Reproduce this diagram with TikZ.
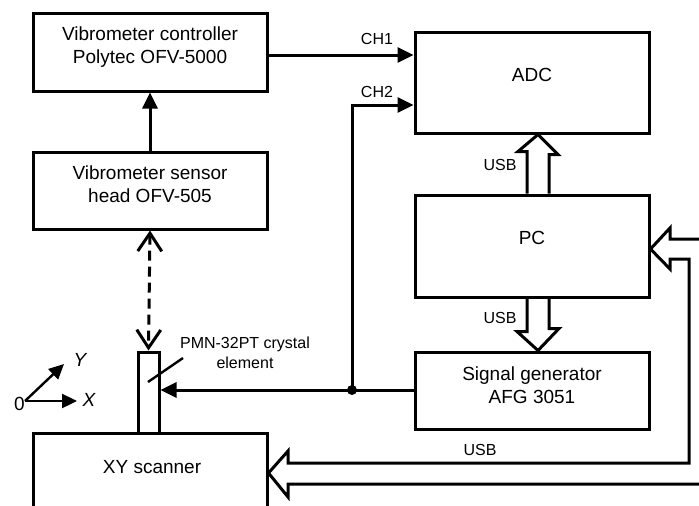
\documentclass[tikz,border=0pt]{standalone}
\usepackage{fontspec}
\setmainfont{Liberation Sans}
\usetikzlibrary{arrows.meta,calc}
\begin{document}
\begin{tikzpicture}[x=1pt,y=-1pt,
  box/.style={draw,line width=3pt,rectangle,inner sep=0pt},
  big/.style={font=\fontsize{19}{23}\selectfont,align=center,inner sep=0pt},
  small/.style={font=\fontsize{16}{19.5}\selectfont,align=center,inner sep=0pt},
  conn/.style={line width=3pt,-{Triangle[length=16pt,width=15pt]}},
  hollow/.style={line width=3pt,line join=miter},
  axis/.style={line width=2.4pt,-{Triangle[length=15pt,width=14pt]}}]
\useasboundingbox (0,0) rectangle (699,506);
\clip (0,0) rectangle (699,506);
% boxes
\node[box,minimum width=234pt,minimum height=78pt] (ctrl) at (150,52) {};
\node[box,minimum width=234pt,minimum height=77pt] (sens) at (150,190.5) {};
\node[box,minimum width=234pt,minimum height=101pt] (adc) at (532,82.5) {};
\node[box,minimum width=234pt,minimum height=102pt] (pc) at (532,246) {};
\node[box,minimum width=234pt,minimum height=77pt] (sig) at (532,390.5) {};
\node[box,minimum width=234pt,minimum height=120pt] (xy) at (150,493) {};
\node[box,minimum width=21pt,minimum height=81pt] (cry) at (148.5,392.5) {};
% texts
\node[big] (ctrlt) at (150,47) {Vibrometer controller\\Polytec OFV-5000};
\node[big] (senst) at (150,184) {Vibrometer sensor\\head OFV-505};
\node[big] (adct) at (532,75) {ADC};
\node[big] (pct) at (532,238) {PC};
\node[big] (sigt) at (532,385) {Signal generator\\AFG 3051};
\node[big] (xyt) at (152,467) {XY scanner};
\node[small] (cryt) at (245,353) {PMN-32PT crystal\\element};
\node[small] (ch1) at (377,39) {CH1};
\node[small] (ch2) at (377,92) {CH2};
\node[small] (usb1) at (500,165) {USB};
\node[small] (usb2) at (500,318) {USB};
\node[small] (usb3) at (480,450) {USB};
% signal connectors
\draw[conn] (sens.north) -- (ctrl.south);
\draw[conn] (ctrl.east |- 0,55) coordinate (c1) -- (adc.west |- c1);
\coordinate (dot) at (352,390);
\draw[conn] (dot) -- (352,105) -- (adc.west |- 0,105);
\draw[conn] (sig.west |- dot) -- (cry.east |- dot);
\fill (dot) circle (5pt);
% dashed optical link
\draw[line width=3pt,dash pattern=on 10pt off 6pt,
  {Straight Barb[length=18pt,width=24pt,line width=3pt]}-{Straight Barb[length=18pt,width=24pt,line width=3pt]}]
  (sens.south) -- (cry.north);
% leader line for crystal
\draw[line width=2.4pt] (148,382) -- (183,358);
% hollow USB arrows
\draw[hollow] ($(pc.north)+(-5,0)$) -- ++(0,-42) -- ++(-9,0) -- ($(adc.south)+(6,0)$)
  -- ($(adc.south)+(26,20)$) -- ++(-9,0) -- ($(pc.north)+(17,0)$);
\draw[hollow] ($(pc.south)+(-5,0)$) -- ++(0,33) -- ++(-10,0) -- ($(sig.north)+(6,0)$)
  -- ($(sig.north)+(27,-22)$) -- ++(-10,0) -- ($(pc.south)+(17,0)$);
\coordinate (pcin) at (pc.east |- 0,249);
\coordinate (xyin) at (xy.east |- 0,473);
\draw[hollow] (705,239) -- (670,239) -- (670,228) -- (pcin) -- (670,269) -- (670,259)
  -- (689,259) -- (689,463) -- (288,463) -- (288,451) -- (xyin) -- (288,497) -- (288,484) -- (705,484);
% axes
\coordinate (o) at (25,401);
\node[big,anchor=east] (zero) at (25,404) {0};
\draw[axis] (o) -- (77,401);
\draw[axis] (o) -- (64,364);
\node[big] (xl) at (89,400) {\itshape X};
\node[big] (yl) at (80,360) {\itshape Y};
\end{tikzpicture}
\end{document}
